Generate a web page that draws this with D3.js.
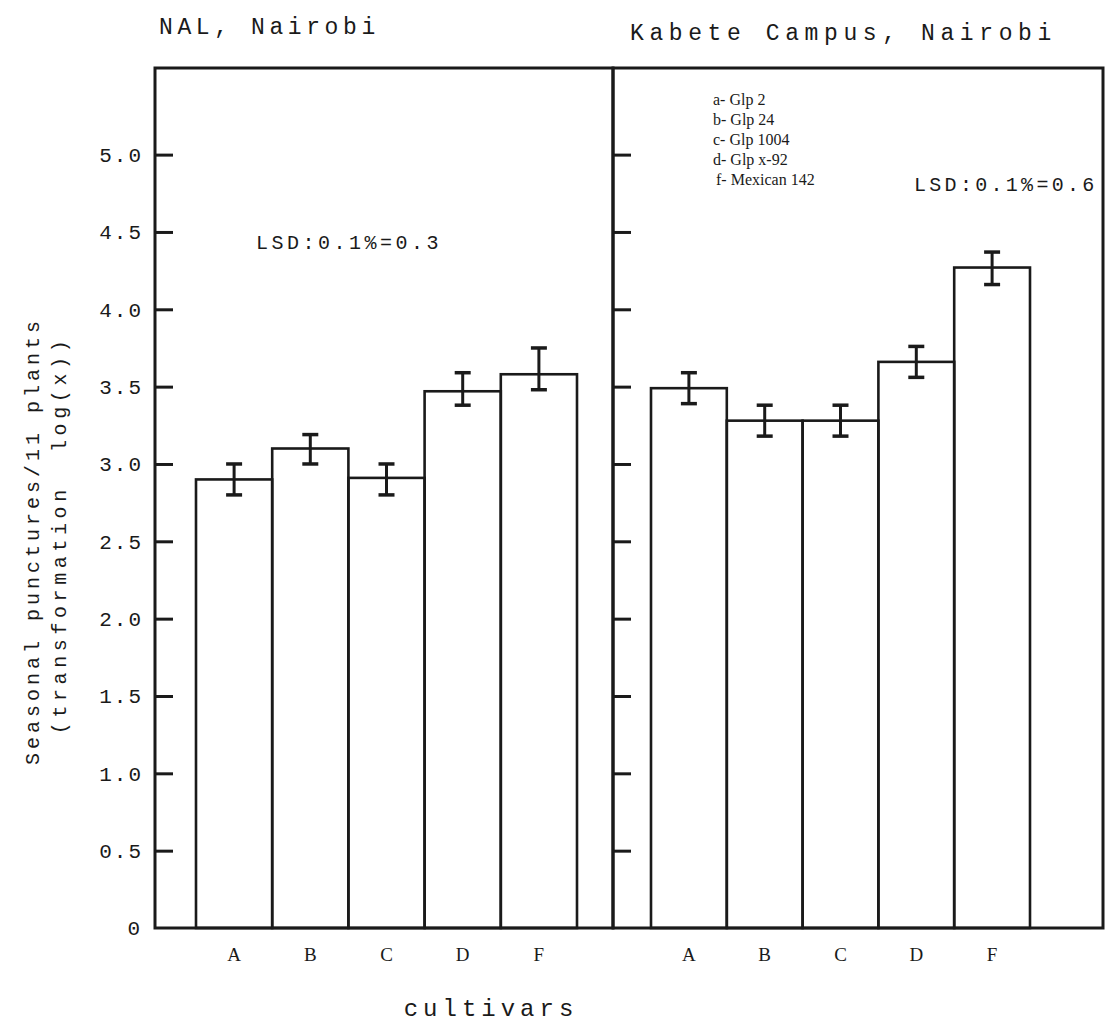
<!DOCTYPE html>
<html>
<head>
<meta charset="utf-8">
<script src="https://cdn.jsdelivr.net/npm/d3@7"></script>
<style>
  body { margin: 0; background: #fff; }
  text { fill: #1a1a1a; }
</style>
</head>
<body>
<div id="chart"></div>
<script>
// data
const cultivars = ["A", "B", "C", "D", "F"];
const nalValues = [2.90, 3.10, 2.91, 3.47, 3.58];
const nalLow = [2.80, 3.00, 2.80, 3.38, 3.48];
const nalHigh = [3.00, 3.19, 3.00, 3.59, 3.75];
const kabeteValues = [3.49, 3.28, 3.28, 3.66, 4.27];
const kabeteLow = [3.39, 3.18, 3.18, 3.56, 4.16];
const kabeteHigh = [3.59, 3.38, 3.38, 3.76, 4.37];
const yTicks = [0, 0.5, 1.0, 1.5, 2.0, 2.5, 3.0, 3.5, 4.0, 4.5, 5.0];
const legendLines = ["a- Glp 2", "b- Glp 24", "c- Glp 1004", "d- Glp x-92", "f- Mexican 142"];

const W = 1111, H = 1030;
const mono = "'Liberation Mono', 'DejaVu Sans Mono', monospace";
const serif = "'Liberation Serif', 'DejaVu Serif', serif";
const ink = "#1a1a1a";

const svg = d3.select("#chart").append("svg")
    .attr("width", W)
    .attr("height", H);

const y = d3.scaleLinear().domain([0, 5.56]).range([928, 68]);

const left = { x0: 155, x1: 613, bars: [196, 577] };
const right = { x0: 613, x1: 1103, bars: [651, 1030] };

function panel(p, values, low, high, showLabels) {
    const x = d3.scaleBand().domain(cultivars).range(p.bars).paddingInner(0);
    const g = svg.append("g");

    // bars
    g.selectAll("rect.bar")
        .data(values)
        .enter().append("rect")
        .attr("class", "bar")
        .attr("x", (d, i) => x(cultivars[i]))
        .attr("y", d => y(d))
        .attr("width", x.bandwidth())
        .attr("height", d => y(0) - y(d))
        .attr("fill", "none")
        .attr("stroke", ink)
        .attr("stroke-width", 2.6);

    // error bars
    const eb = g.selectAll("g.err")
        .data(values.map((v, i) => ({ c: cultivars[i], lo: low[i], hi: high[i] })))
        .enter().append("g").attr("class", "err");
    eb.append("line")
        .attr("x1", d => x(d.c) + x.bandwidth() / 2)
        .attr("x2", d => x(d.c) + x.bandwidth() / 2)
        .attr("y1", d => y(d.lo)).attr("y2", d => y(d.hi))
        .attr("stroke", ink).attr("stroke-width", 3);
    [d => d.lo, d => d.hi].forEach(acc => {
        eb.append("line")
            .attr("x1", d => x(d.c) + x.bandwidth() / 2 - 8)
            .attr("x2", d => x(d.c) + x.bandwidth() / 2 + 8)
            .attr("y1", d => y(acc(d))).attr("y2", d => y(acc(d)))
            .attr("stroke", ink).attr("stroke-width", 3.5);
    });

    // frame
    g.append("rect")
        .attr("x", p.x0).attr("y", y.range()[1])
        .attr("width", p.x1 - p.x0).attr("height", y(0) - y.range()[1])
        .attr("fill", "none").attr("stroke", ink).attr("stroke-width", 3);

    // inward ticks
    const axis = d3.axisLeft(y)
        .tickValues(yTicks.filter(t => t > 0))
        .tickSize(-18)
        .tickPadding(12)
        .tickFormat(showLabels ? d3.format(".1f") : "");
    const ag = g.append("g")
        .attr("transform", "translate(" + p.x0 + ",0)")
        .call(axis);
    ag.select(".domain").remove();
    ag.selectAll(".tick line").attr("stroke", ink).attr("stroke-width", 3);
    ag.selectAll(".tick text")
        .style("font-family", mono)
        .style("font-size", "21px")
        .style("letter-spacing", "2px")
        .attr("fill", ink);

    // category labels
    g.selectAll("text.cat")
        .data(cultivars)
        .enter().append("text")
        .attr("class", "cat")
        .attr("x", d => x(d) + x.bandwidth() / 2)
        .attr("y", 961)
        .attr("text-anchor", "middle")
        .style("font-family", serif)
        .style("font-size", "19px")
        .text(d => d);
}

panel(left, nalValues, nalLow, nalHigh, true);
panel(right, kabeteValues, kabeteLow, kabeteHigh, false);

// zero label
svg.append("text")
    .attr("x", 140).attr("y", 935)
    .attr("text-anchor", "end")
    .style("font-family", mono)
    .style("font-size", "21px")
    .text("0");

// panel titles
svg.append("text")
    .attr("x", 159).attr("y", 34)
    .style("font-family", mono)
    .style("font-size", "23px")
    .style("letter-spacing", "4.6px")
    .text("NAL, Nairobi");

svg.append("text")
    .attr("x", 630).attr("y", 40)
    .style("font-family", mono)
    .style("font-size", "23px")
    .style("letter-spacing", "5.6px")
    .text("Kabete Campus, Nairobi");

// LSD notes
svg.append("text")
    .attr("x", 256).attr("y", 249)
    .style("font-family", mono)
    .style("font-size", "20px")
    .style("letter-spacing", "3.5px")
    .text("LSD:0.1%=0.3");

svg.append("text")
    .attr("x", 914).attr("y", 191)
    .style("font-family", mono)
    .style("font-size", "20px")
    .style("letter-spacing", "3.3px")
    .text("LSD:0.1%=0.6");

// cultivar key
svg.append("g").selectAll("text")
    .data(legendLines)
    .enter().append("text")
    .attr("x", (d, i) => i === 4 ? 716 : 713)
    .attr("y", (d, i) => 105 + i * 20)
    .style("font-family", serif)
    .style("font-size", "16px")
    .text(d => d);

// axis titles
svg.append("text")
    .attr("transform", "translate(39,541) rotate(-90)")
    .attr("text-anchor", "middle")
    .style("font-family", mono)
    .style("font-size", "20px")
    .style("letter-spacing", "4px")
    .text("Seasonal punctures/11 plants");

svg.append("text")
    .attr("transform", "translate(66,535) rotate(-90)")
    .attr("text-anchor", "middle")
    .style("font-family", mono)
    .style("font-size", "20px")
    .style("letter-spacing", "4.6px")
    .style("white-space", "pre")
    .text("(transformation  log(x))");

svg.append("text")
    .attr("x", 491).attr("y", 1016)
    .attr("text-anchor", "middle")
    .style("font-family", mono)
    .style("font-size", "24px")
    .style("letter-spacing", "5px")
    .text("cultivars");
</script>
</body>
</html>
